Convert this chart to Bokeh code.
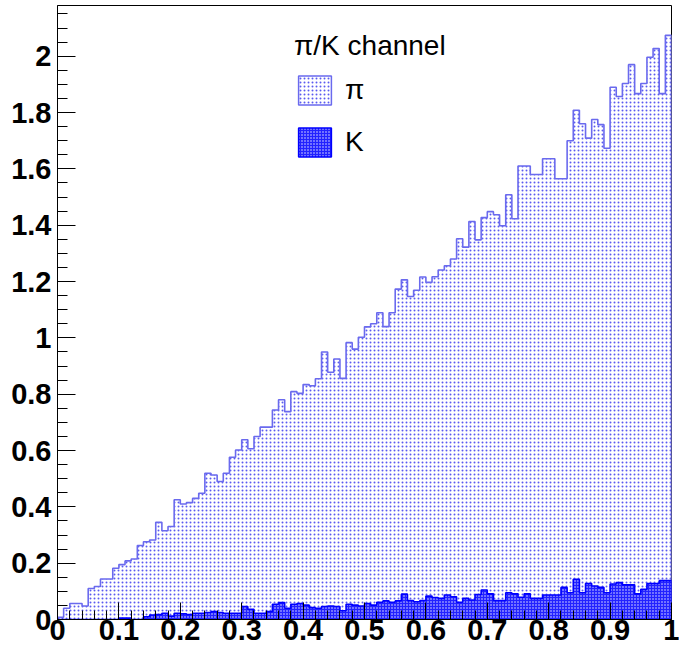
import numpy as np
from bokeh.plotting import figure
from bokeh.models import FixedTicker, Legend, LegendItem
from bokeh.embed import file_html
from bokeh.resources import INLINE

# 100 bins on [0, 1]
n_bins = 100
x_min, x_max = 0.0, 1.0

pi_counts = [
    0.008, 0.040, 0.057, 0.057, 0.048, 0.110, 0.117, 0.144, 0.144, 0.182,
    0.195, 0.208, 0.215, 0.263, 0.276, 0.282, 0.345, 0.315, 0.330, 0.425,
    0.410, 0.415, 0.430, 0.448, 0.519, 0.513, 0.490, 0.519, 0.576, 0.602,
    0.638, 0.606, 0.650, 0.683, 0.683, 0.744, 0.780, 0.738, 0.809, 0.803,
    0.834, 0.830, 0.855, 0.950, 0.878, 0.925, 0.856, 0.983, 0.960, 1.002,
    1.039, 1.050, 1.089, 1.040, 1.089, 1.173, 1.206, 1.147, 1.169, 1.216,
    1.197, 1.217, 1.241, 1.256, 1.280, 1.352, 1.322, 1.413, 1.348, 1.427,
    1.448, 1.437, 1.398, 1.508, 1.423, 1.610, 1.610, 1.580, 1.580, 1.636,
    1.636, 1.565, 1.565, 1.700, 1.808, 1.760, 1.709, 1.775, 1.757, 1.673,
    1.890, 1.857, 1.903, 1.970, 1.867, 1.903, 1.996, 2.027, 1.867, 2.074,
]

k_counts = [
    0.000, 0.000, 0.000, 0.000, 0.000, 0.000, 0.000, 0.000, 0.000, 0.000,
    0.005, 0.005, 0.000, 0.000, 0.010, 0.016, 0.018, 0.022, 0.012, 0.022,
    0.020, 0.018, 0.022, 0.022, 0.025, 0.028, 0.025, 0.022, 0.022, 0.022,
    0.046, 0.036, 0.022, 0.022, 0.028, 0.054, 0.060, 0.040, 0.054, 0.057,
    0.051, 0.042, 0.040, 0.046, 0.048, 0.046, 0.031, 0.054, 0.051, 0.048,
    0.057, 0.051, 0.061, 0.066, 0.061, 0.066, 0.090, 0.067, 0.063, 0.067,
    0.083, 0.078, 0.075, 0.087, 0.081, 0.061, 0.075, 0.069, 0.089, 0.105,
    0.091, 0.067, 0.067, 0.095, 0.091, 0.079, 0.091, 0.075, 0.075, 0.087,
    0.087, 0.087, 0.114, 0.095, 0.143, 0.095, 0.128, 0.119, 0.114, 0.095,
    0.126, 0.131, 0.123, 0.123, 0.091, 0.107, 0.128, 0.128, 0.138, 0.138,
]

x_major = [round(0.1 * i, 1) for i in range(11)]
x_minor = [round(0.02 * i, 2) for i in range(51)]
y_major = [round(0.2 * i, 1) for i in range(11)]
y_minor = [round(0.05 * i, 2) for i in range(44)]
x_tick_labels = {0.0: "0", 1.0: "1"}
y_tick_labels = {0.0: "0", 1.0: "1", 2.0: "2"}

legend_title = "π/K channel"
pi_label = "π"
k_label = "K"

edges = np.linspace(x_min, x_max, n_bins + 1)
left, right = edges[:-1], edges[1:]

PI_LINE = "#6a6aee"
PI_DOTS = "#5a5af0"
K_BLUE = "#0000ff"
K_FILL = "#2222ff"
FONT = "Liberation Sans"

pi_style = dict(fill_color="white", hatch_pattern="dot", hatch_color=PI_DOTS,
                hatch_scale=4, hatch_weight=1.3)
k_style = dict(fill_color=K_FILL, hatch_pattern="dot", hatch_color="white",
               hatch_scale=3, hatch_weight=2.0, hatch_alpha=0.9)

p = figure(
    frame_width=614, frame_height=614,
    x_range=(x_min, x_max), y_range=(0, 2.18),
    output_backend="svg", toolbar_location=None,
    min_border_left=57, min_border_right=8,
    min_border_top=5, min_border_bottom=31,
    background_fill_color="white", border_fill_color="white",
)
p.grid.visible = False
p.outline_line_color = "black"
p.outline_line_width = 1


def step_outline(counts):
    xs = [edges[0]] + list(edges)
    ys = [0.0] + list(counts) + [0.0]
    return xs, ys


# pi histogram: dotted fill + outline
p.varea_step(x=list(edges), y1=[0.0] * (n_bins + 1),
             y2=list(pi_counts) + [pi_counts[-1]], step_mode="after", **pi_style)
xs, ys = step_outline(pi_counts)
p.step(x=xs, y=ys, mode="after", line_color=PI_LINE, line_width=1.6)

# K histogram: blue with light dots + outline
p.varea_step(x=list(edges), y1=[0.0] * (n_bins + 1),
             y2=list(k_counts) + [k_counts[-1]], step_mode="after", **k_style)
xs, ys = step_outline(k_counts)
p.step(x=xs, y=ys, mode="after", line_color=K_BLUE, line_width=1.6)

# per-bin boxes (hidden) that give the legend its outlined swatches
pi_box = p.quad(left=left, right=right, top=pi_counts, bottom=0,
                line_color=PI_LINE, line_width=1.5, **pi_style)
k_box = p.quad(left=left, right=right, top=k_counts, bottom=0,
               line_color=K_BLUE, line_width=1.5, **k_style)
pi_box.visible = False
k_box.visible = False

legend = Legend(
    items=[LegendItem(label=pi_label, renderers=[pi_box], index=0),
           LegendItem(label=k_label, renderers=[k_box], index=0)],
    title=legend_title,
    location=(237, 459),
    border_line_color=None, background_fill_alpha=0,
    inactive_fill_alpha=0,
    title_text_font=FONT, title_text_font_size="28px",
    title_text_font_style="normal", title_text_color="black",
    title_standoff=10,
    label_text_font=FONT, label_text_font_size="28px", label_text_color="black",
    glyph_width=41, glyph_height=36, spacing=16, label_standoff=10,
    padding=0, margin=0,
)
p.add_layout(legend)

# axes: ticks pointing into the frame
for ax in (p.xaxis[0], p.yaxis[0]):
    ax.axis_line_color = "black"
    ax.major_tick_line_color = "black"
    ax.minor_tick_line_color = "black"
    ax.major_tick_out = 0
    ax.minor_tick_out = 0
    ax.major_label_text_font = FONT
    ax.major_label_text_font_size = "29px"
    ax.major_label_text_font_style = "bold"
    ax.major_label_text_color = "black"

p.xaxis[0].ticker = FixedTicker(ticks=x_major, minor_ticks=x_minor)
p.xaxis[0].major_label_overrides = x_tick_labels
p.xaxis[0].major_tick_in = 17
p.xaxis[0].minor_tick_in = 9
p.xaxis[0].major_label_standoff = 0

p.yaxis[0].ticker = FixedTicker(ticks=y_major, minor_ticks=y_minor)
p.yaxis[0].major_label_overrides = y_tick_labels
p.yaxis[0].major_tick_in = 18
p.yaxis[0].minor_tick_in = 10
p.yaxis[0].major_label_standoff = 6

open("out.html", "w").write(file_html(p, INLINE))
